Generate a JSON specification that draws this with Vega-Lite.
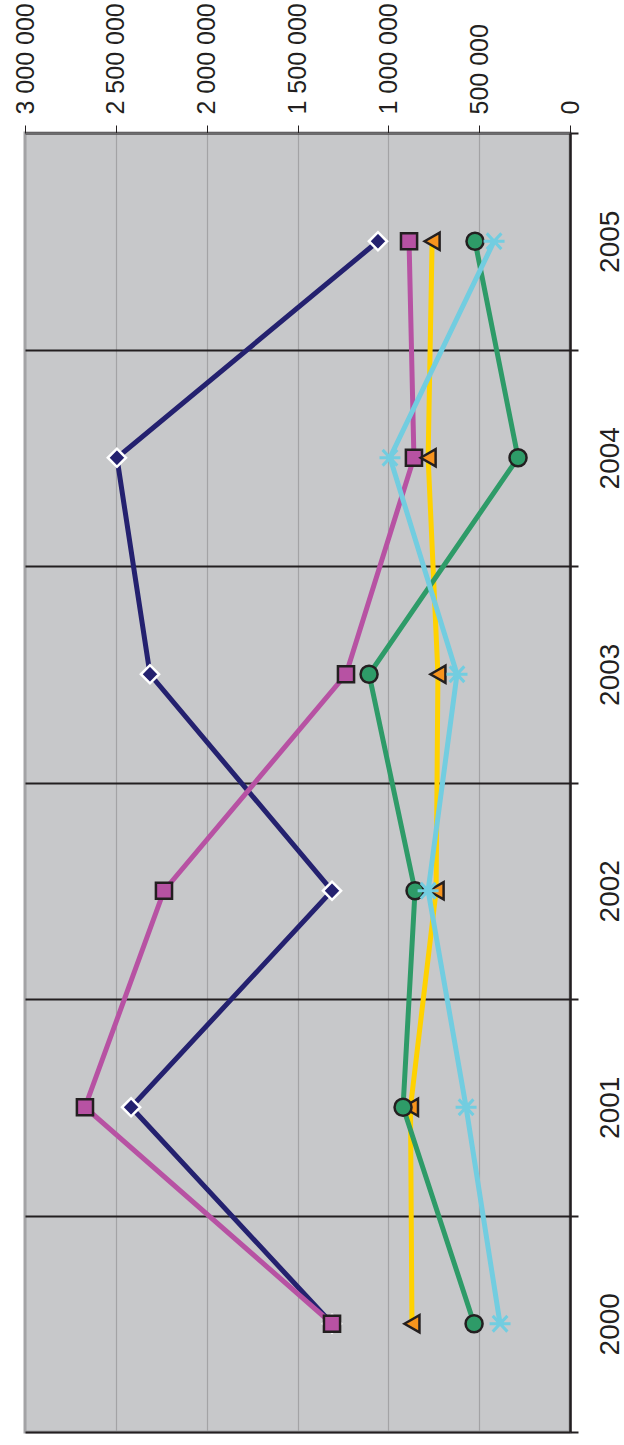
{
  "$schema": "https://vega.github.io/schema/vega-lite/v6.json",
  "autosize": {"type": "none"},
  "padding": {"left": 25, "top": 133, "right": 54, "bottom": 13},
  "width": 545,
  "height": 1299,
  "background": "white",
  "config": {
    "view": {"fill": "#C7C8CA", "stroke": "#A3A3A5", "strokeWidth": 3},
    "font": "Liberation Sans"
  },
  "data": {
    "values": [
      {"series": "s1", "year": "2000", "value": 1310000},
      {"series": "s1", "year": "2001", "value": 2416000},
      {"series": "s1", "year": "2002", "value": 1310000},
      {"series": "s1", "year": "2003", "value": 2312000},
      {"series": "s1", "year": "2004", "value": 2494000},
      {"series": "s1", "year": "2005", "value": 1057000},
      {"series": "s2", "year": "2000", "value": 1310000},
      {"series": "s2", "year": "2001", "value": 2670000},
      {"series": "s2", "year": "2002", "value": 2235000},
      {"series": "s2", "year": "2003", "value": 1233000},
      {"series": "s2", "year": "2004", "value": 859000},
      {"series": "s2", "year": "2005", "value": 886000},
      {"series": "s3", "year": "2000", "value": 870000},
      {"series": "s3", "year": "2001", "value": 878000},
      {"series": "s3", "year": "2002", "value": 737000},
      {"series": "s3", "year": "2003", "value": 727000},
      {"series": "s3", "year": "2004", "value": 781000},
      {"series": "s3", "year": "2005", "value": 759000},
      {"series": "s4", "year": "2000", "value": 528000},
      {"series": "s4", "year": "2001", "value": 919000},
      {"series": "s4", "year": "2002", "value": 853000},
      {"series": "s4", "year": "2003", "value": 1106000},
      {"series": "s4", "year": "2004", "value": 286000},
      {"series": "s4", "year": "2005", "value": 523000},
      {"series": "s5", "year": "2000", "value": 385000},
      {"series": "s5", "year": "2001", "value": 572000},
      {"series": "s5", "year": "2002", "value": 781000},
      {"series": "s5", "year": "2003", "value": 622000},
      {"series": "s5", "year": "2004", "value": 991000},
      {"series": "s5", "year": "2005", "value": 418000}
    ]
  },
  "encoding": {
    "x": {
      "field": "value", "type": "quantitative",
      "scale": {"domain": [0, 3000000], "reverse": true, "nice": false, "zero": true},
      "axis": {
        "orient": "top", "title": null,
        "values": [0, 500000, 1000000, 1500000, 2000000, 2500000, 3000000],
        "labelExpr": "replace(replace(format(datum.value, ','), ',', ' '), ',', ' ')",
        "labelAngle": -90, "labelAlign": "left", "labelBaseline": "middle",
        "labelFontSize": 25, "labelColor": "#231F20", "labelPadding": 11,
        "labelFont": "Liberation Sans",
        "tickSize": 8, "tickColor": "#231F20", "tickWidth": 1,
        "domain": true, "domainColor": "#6d6d6f", "domainWidth": 1,
        "grid": true, "gridColor": "#A3A3A5", "gridWidth": 1.2,
        "labelOverlap": false, "labelBound": false, "labelFlush": false
      }
    },
    "y": {
      "field": "year", "type": "ordinal", "sort": "descending",
      "scale": {"type": "band", "paddingInner": 0, "paddingOuter": 0},
      "axis": {
        "orient": "right", "title": null, "tickBand": "extent",
        "labelAngle": -90, "labelAlign": "center", "labelBaseline": "top",
        "labelFontSize": 28, "labelColor": "#231F20", "labelPadding": 18,
        "labelFont": "Liberation Sans",
        "tickSize": 8, "tickColor": "#231F20", "tickWidth": 2,
        "domain": true, "domainColor": "#231F20", "domainWidth": 2.5,
        "grid": true, "gridColor": "#231F20", "gridWidth": 2
      }
    }
  },
  "layer": [
    {
      "mark": {"type": "line", "strokeWidth": 5, "strokeJoin": "miter"},
      "encoding": {
        "color": {
          "field": "series", "type": "nominal", "legend": null,
          "scale": {"domain": ["s1", "s2", "s3", "s4", "s5"],
                    "range": ["#24216F", "#B752A3", "#FFD200", "#2E9B68", "#72CDE0"]}
        }
      }
    },
    {
      "mark": {"type": "point", "filled": true, "opacity": 1, "strokeOpacity": 1, "fillOpacity": 1},
      "encoding": {
        "shape": {
          "field": "series", "type": "nominal", "legend": null,
          "scale": {"domain": ["s1", "s2", "s3", "s4", "s5"],
                    "range": ["diamond", "square", "triangle-left", "circle",
                              "M-1,0L1,0M-0.7,-0.75L0.7,0.75M-0.7,0.75L0.7,-0.75"]}
        },
        "fill": {
          "field": "series", "type": "nominal", "legend": null,
          "scale": {"domain": ["s1", "s2", "s3", "s4", "s5"],
                    "range": ["#24216F", "#B752A3", "#F7941D", "#2E9B68", "#72CDE0"]}
        },
        "stroke": {
          "field": "series", "type": "nominal", "legend": null,
          "scale": {"domain": ["s1", "s2", "s3", "s4", "s5"],
                    "range": ["#FFFFFF", "#231F20", "#231F20", "#231F20", "#72CDE0"]}
        },
        "size": {
          "field": "series", "type": "nominal", "legend": null,
          "scale": {"type": "ordinal", "domain": ["s1", "s2", "s3", "s4", "s5"],
                    "range": [330, 260, 300, 290, 440]}
        },
        "strokeWidth": {
          "field": "series", "type": "nominal", "legend": null,
          "scale": {"type": "ordinal", "domain": ["s1", "s2", "s3", "s4", "s5"],
                    "range": [2.5, 2.5, 2.5, 2.5, 3]}
        }
      }
    }
  ]
}
